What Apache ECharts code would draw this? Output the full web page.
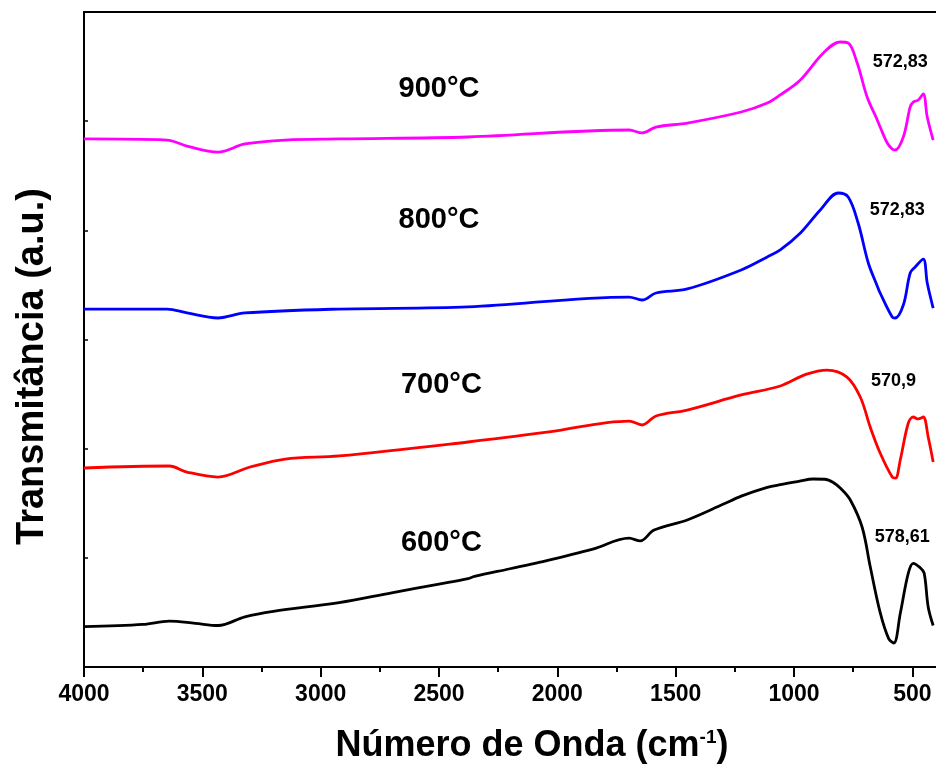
<!DOCTYPE html>
<html>
<head>
<meta charset="utf-8">
<script src="https://cdn.jsdelivr.net/npm/echarts@6/dist/echarts.min.js"></script>
<style>html,body{margin:0;padding:0;background:#fff}#c{width:936px;height:776px}</style>
</head>
<body>
<div id="c"></div>
<script>
// Tick values
const xMajorTicks = [500, 1000, 1500, 2000, 2500, 3000, 3500, 4000];
const xMinorTicks = [750, 1250, 1750, 2250, 2750, 3250, 3750];

// 600 °C (black)
const wn600 = [4000, 3750, 3640, 3530, 3434, 3320, 3200, 2922, 2700, 2500, 2377, 2350, 2200, 2073, 1850, 1697, 1650, 1591, 1451, 1300, 1223, 1113, 1058, 980, 919, 870, 834, 800, 762, 712, 678, 636, 600, 578, 551, 517, 496, 467, 450, 433, 412];
const t600  = [0.37, 0.39, 0.42, 0.40, 0.38, 0.46, 0.51, 0.59, 0.68, 0.76, 0.81, 0.83, 0.90, 0.96, 1.08, 1.18, 1.155, 1.255, 1.347, 1.49, 1.565, 1.645, 1.67, 1.70, 1.722, 1.72, 1.69, 1.63, 1.53, 1.28, 0.92, 0.50, 0.26, 0.22, 0.49, 0.86, 0.95, 0.91, 0.86, 0.55, 0.38];

// 700 °C (red)
const wn700 = [4000, 3640, 3565, 3434, 3298, 3150, 2922, 2377, 2035, 1697, 1642, 1583, 1451, 1223, 1058, 950, 860, 776, 720, 678, 636, 585, 571, 551, 517, 496, 475, 454, 433, 412];
const t700  = [1.823, 1.841, 1.786, 1.740, 1.832, 1.905, 1.933, 2.061, 2.153, 2.253, 2.217, 2.299, 2.354, 2.492, 2.574, 2.68, 2.72, 2.656, 2.473, 2.198, 1.96, 1.74, 1.73, 1.896, 2.235, 2.29, 2.272, 2.29, 2.107, 1.878];

// 800 °C (blue)
const wn800 = [4000, 3649, 3565, 3434, 3320, 2922, 2377, 1697, 1642, 1583, 1451, 1223, 1113, 1058, 973, 889, 813, 771, 729, 686, 650, 636, 585, 573, 538, 509, 488, 454, 437, 412];
const t800  = [3.279, 3.279, 3.243, 3.197, 3.243, 3.279, 3.298, 3.389, 3.362, 3.426, 3.463, 3.637, 3.756, 3.82, 3.975, 4.186, 4.342, 4.305, 4.067, 3.701, 3.50, 3.426, 3.206, 3.197, 3.316, 3.609, 3.664, 3.737, 3.517, 3.288];

// 900 °C (magenta)
const wn900 = [4000, 3649, 3565, 3434, 3320, 3150, 2922, 2377, 1697, 1642, 1583, 1451, 1223, 1113, 1058, 973, 876, 805, 771, 733, 691, 650, 636, 606, 585, 573, 538, 509, 496, 475, 454, 437, 412];
const t900  = [4.837, 4.827, 4.772, 4.717, 4.791, 4.827, 4.837, 4.855, 4.919, 4.892, 4.946, 4.983, 5.084, 5.166, 5.24, 5.377, 5.624, 5.725, 5.716, 5.533, 5.221, 5.02, 4.946, 4.80, 4.745, 4.736, 4.855, 5.13, 5.175, 5.194, 5.249, 5.038, 4.827];

// Annotations
const tempNames = ['900°C', '800°C', '700°C', '600°C'];
const tempX = [2500, 2500, 2490, 2490];
const tempY = [5.295, 4.095, 2.583, 1.136];
const peakNames = ['572,83', '572,83', '570,9', '578,61'];
const peakX = [551, 564, 580, 543];
const peakY = [5.542, 4.186, 2.62, 1.19];

function zip(a, b) { return a.map((v, i) => [v, b[i]]); }

const FONT = '"Liberation Sans", Arial, sans-serif';
const chart = echarts.init(document.getElementById('c'), null, {renderer: 'canvas'});

function lineSeries(name, wn, t, color) {
  return {
    name: name, type: 'line', data: zip(wn, t), showSymbol: false,
    smooth: 0.35,
    lineStyle: {color: color, width: 2.8}, itemStyle: {color: color},
    z: 3
  };
}
function textSeries(names, xs, ys, size) {
  return {
    type: 'scatter', symbol: 'circle', symbolSize: 0, itemStyle: {color: '#000'}, silent: true,
    data: names.map((n, i) => ({name: n, value: [xs[i], ys[i]]})),
    label: {show: true, position: [0, 0], align: 'center', verticalAlign: 'middle', formatter: p => p.name,
      color: '#000', opacity: 1, textBorderWidth: 0, fontSize: size, fontWeight: 'bold', fontFamily: FONT},
    z: 5
  };
}

chart.setOption({
  animation: false,
  backgroundColor: '#fff',
  grid: {left: 84, top: 12, right: 0, bottom: 109, containLabel: false},
  xAxis: [{
    type: 'value', min: 400, max: 4000, inverse: true,
    axisLine: {show: true, onZero: false, lineStyle: {color: '#000', width: 2}},
    axisTick: {show: true, inside: false, length: 10, lineStyle: {color: '#000', width: 2}, customValues: xMajorTicks},
    axisLabel: {show: true, margin: 16, color: '#000', fontSize: 23, fontWeight: 'bold', fontFamily: FONT, customValues: xMajorTicks, formatter: v => String(v)},
    splitLine: {show: false},
    name: 'Número de Onda (cm{sup|-1})',
    nameLocation: 'middle', nameGap: 61,
    nameTextStyle: {color: '#000', fontSize: 36, fontWeight: 'bold', fontFamily: FONT, padding: [0, 0, 0, 44],
      rich: {sup: {fontSize: 19, fontWeight: 'bold', fontFamily: FONT, color: '#000', verticalAlign: 'top', lineHeight: 36}}}
  }, {
    type: 'value', min: 400, max: 4000, inverse: true, position: 'bottom',
    axisLine: {show: false},
    axisTick: {show: true, inside: false, length: 5, lineStyle: {color: '#000', width: 2}, customValues: xMinorTicks},
    axisLabel: {show: false}, splitLine: {show: false}
  }, {
    type: 'value', min: 400, max: 4000, inverse: true, position: 'top',
    axisLine: {show: true, onZero: false, lineStyle: {color: '#000', width: 2}},
    axisTick: {show: false}, axisLabel: {show: false}, splitLine: {show: false}
  }],
  yAxis: {
    type: 'value', min: 0, max: 6, interval: 1,
    axisLine: {show: true, onZero: false, lineStyle: {color: '#000', width: 2}},
    axisTick: {show: true, inside: true, length: 4, lineStyle: {color: '#000', width: 1.5}},
    axisLabel: {show: false}, splitLine: {show: false},
    name: 'Transmitância (a.u.)', nameLocation: 'middle', nameGap: 32,
    nameTextStyle: {color: '#000', fontSize: 38, fontWeight: 'bold', fontFamily: FONT, padding: [0, 54, 0, 0]}
  },
  series: [
    lineSeries('600°C', wn600, t600, '#000000'),
    lineSeries('700°C', wn700, t700, '#FF0000'),
    lineSeries('800°C', wn800, t800, '#0000FF'),
    lineSeries('900°C', wn900, t900, '#FF00FF'),
    textSeries(tempNames, tempX, tempY, 29),
    textSeries(peakNames, peakX, peakY, 18)
  ]
});
</script>
</body>
</html>
